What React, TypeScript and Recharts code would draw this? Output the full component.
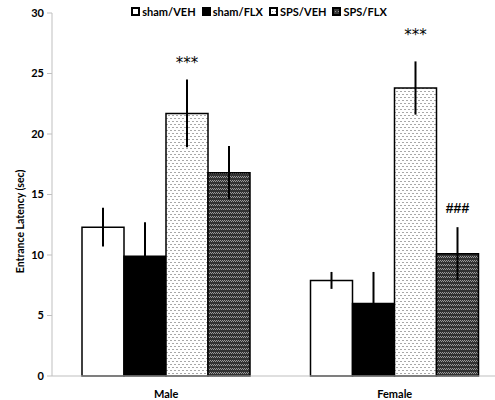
import { BarChart, Bar, XAxis, YAxis, ErrorBar, LabelList } from 'recharts'

const groups = ['Male', 'Female']
const seriesNames = ['sham/VEH', 'sham/FLX', 'SPS/VEH', 'SPS/FLX']
const shamVeh = [12.3, 7.9]
const shamVehErr = [1.6, 0.7]
const shamFlx = [9.9, 6.0]
const shamFlxErr = [2.8, 2.6]
const spsVeh = [21.7, 23.8]
const spsVehErr = [2.8, 2.2]
const spsFlx = [16.8, 10.1]
const spsFlxErr = [2.2, 2.2]
const spsVehMark = ['***', '***']
const spsVehMarkAt = [26.1, 28.4]
const spsFlxMark = ['', '###']
const spsFlxMarkAt = [0, 13.9]
const yTicks = [0, 5, 10, 15, 20, 25, 30]

const data = groups.map((g, i) => ({
  g,
  a: shamVeh[i], ae: shamVehErr[i],
  b: shamFlx[i], be: shamFlxErr[i],
  c: spsVeh[i], ce: spsVehErr[i], cm: spsVehMark[i],
  d: spsFlx[i], de: spsFlxErr[i], dm: spsFlxMark[i],
}))

const FONT = "Lato, 'Open Sans', sans-serif"
const AX = '#bfbfbf'

const fills = ['#ffffff', '#000000', 'url(#dots)', 'url(#check)']

// place the mark at a data value, using the bar's own pixels-per-unit
const markLabel = (vals: number[], at: number[]) => (p: any) => {
  const { x, y, width, height, value, index } = p
  if (!value) return null
  const base = y + height
  const cy = base - at[index] * (height / vals[index])
  const isStar = value.startsWith('*')
  return isStar ? (
    <text x={x + width / 2} y={cy + 8} textAnchor="middle" fontSize={15}
      fontFamily="'DejaVu Sans', sans-serif" fill="#000">{value}</text>
  ) : (
    <text x={x + width / 2} y={cy + 5} textAnchor="middle" fontSize={14} fontWeight={700}
      fontFamily="'Liberation Sans', sans-serif" fill="#000">{value}</text>
  )
}

const YLabel = ({ viewBox }: any) => {
  const x = 20
  const y = viewBox.y + viewBox.height / 2 + 27
  return (
    <text x={x} y={y} transform={`rotate(-90 ${x} ${y})`} textAnchor="middle" dominantBaseline="central"
      fontSize={10.5} fontWeight={700} fill="#000" fontFamily={FONT}>
      Entrance  Latency (sec)
    </text>
  )
}

function LegendIcon({ i }: { i: number }) {
  return (
    <svg width={9} height={9} style={{ marginRight: 2 }}>
      <defs>
        <pattern id={`ld${i}`} width={3} height={3} patternUnits="userSpaceOnUse">
          <rect width={3} height={3} fill={i === 2 ? '#fff' : '#3a3a3a'} />
          <rect x={0} y={1} width={1} height={1} fill="#999" />
        </pattern>
      </defs>
      <rect x={1} y={1} width={7} height={7} fill={i < 2 ? fills[i] : `url(#ld${i})`} stroke="#000" strokeWidth={2} />
    </svg>
  )
}

export default function App() {
  return (
    <div style={{ position: 'absolute', left: 0, top: 0, width: 495, height: 400, overflow: 'hidden', background: '#fff' }}>
      <div style={{ position: 'absolute', top: 5, left: 0, width: 518, display: 'flex', justifyContent: 'center', gap: 6, fontFamily: FONT, fontWeight: 700, fontSize: 11, color: '#000', zIndex: 2 }}>
        {seriesNames.map((n, i) => (
          <div key={n} style={{ display: 'flex', alignItems: 'center' }}>
            <LegendIcon i={i} />
            <span>{n}</span>
          </div>
        ))}
      </div>
      <BarChart width={520} height={400} data={data} margin={{ top: 13, right: 11, bottom: 0, left: 0 }}
        barCategoryGap={30} barGap={0}>
        <defs>
          <pattern id="dots" width={4} height={6} patternUnits="userSpaceOnUse">
            <rect width={4} height={6} fill="#ffffff" />
            <rect x={0} y={1} width={2} height={1} fill="#a8a8a8" />
            <rect x={2} y={4} width={2} height={1} fill="#a8a8a8" />
          </pattern>
          <pattern id="check" width={4} height={4} patternUnits="userSpaceOnUse">
            <rect width={4} height={4} fill="#333333" />
            <rect x={0} y={0} width={1} height={1} fill="#9a9a9a" />
            <rect x={2} y={0} width={1} height={1} fill="#9a9a9a" />
            <rect x={1} y={1} width={1} height={1} fill="#9a9a9a" />
            <rect x={3} y={1} width={1} height={1} fill="#9a9a9a" />
          </pattern>
        </defs>
        <XAxis dataKey="g" axisLine={{ stroke: AX }} tickLine={false} height={24} tickMargin={8}
          tick={{ fontSize: 11, fontWeight: 700, fill: '#000', fontFamily: FONT }} />
        <YAxis domain={[0, 30]} ticks={yTicks} width={52} axisLine={{ stroke: AX }} tickLine={{ stroke: AX }}
          tickSize={5} tickMargin={3} tick={{ fontSize: 11, fontWeight: 700, fill: '#000', fontFamily: FONT }}
          label={<YLabel />} />
        <Bar dataKey="a" name={seriesNames[0]} fill={fills[0]} stroke="#000" strokeWidth={1.5} isAnimationActive={false}>
          <ErrorBar dataKey="ae" width={0} stroke="#000" strokeWidth={2} />
        </Bar>
        <Bar dataKey="b" name={seriesNames[1]} fill={fills[1]} stroke="#000" strokeWidth={1.5} isAnimationActive={false}>
          <ErrorBar dataKey="be" width={0} stroke="#000" strokeWidth={2} />
        </Bar>
        <Bar dataKey="c" name={seriesNames[2]} fill={fills[2]} stroke="#000" strokeWidth={1.5} isAnimationActive={false}>
          <ErrorBar dataKey="ce" width={0} stroke="#000" strokeWidth={2} />
          <LabelList dataKey="cm" content={markLabel(spsVeh, spsVehMarkAt)} />
        </Bar>
        <Bar dataKey="d" name={seriesNames[3]} fill={fills[3]} stroke="#000" strokeWidth={1.5} isAnimationActive={false}>
          <ErrorBar dataKey="de" width={0} stroke="#000" strokeWidth={2} />
          <LabelList dataKey="dm" content={markLabel(spsFlx, spsFlxMarkAt)} />
        </Bar>
      </BarChart>
    </div>
  )
}
